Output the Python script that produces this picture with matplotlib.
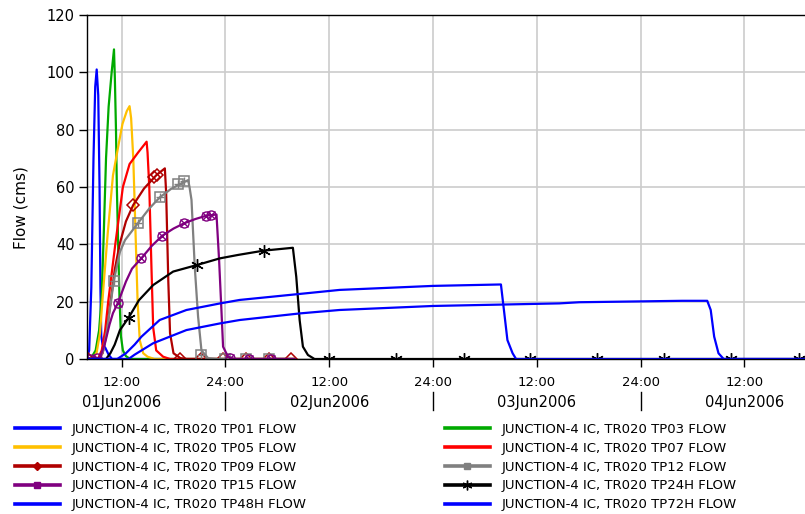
import matplotlib
matplotlib.use("Agg")
import matplotlib.pyplot as plt
from matplotlib.lines import Line2D
import matplotlib.transforms as mtransforms

# ---------------- data (hours since 01Jun2006 00:00, flow in cms) ----------------
tp01_t = [8.0, 8.25, 8.5, 8.75, 8.95, 9.12, 9.3, 9.45, 9.55, 9.65, 9.8, 10.1, 10.5, 10.9, 32.0]
tp01_v = [0.3, 3, 25, 70, 95, 101, 92, 60, 25, 8, 5, 4, 1.5, 0, 0]

tp03_t = [8.0, 8.5, 9.0, 9.4, 9.7, 9.95, 10.2, 10.5, 10.85, 11.12, 11.22, 11.35, 11.45, 11.6, 11.75, 11.92, 12.15, 12.5, 13.0, 32.0]
tp03_v = [0, 0.5, 3, 10, 22, 45, 70, 88, 100, 108, 98, 80, 60, 40, 22, 8, 3, 1, 0, 0]

tp05_t = [8.0, 8.6, 9.1, 9.5, 9.9, 10.4, 11.0, 11.6, 12.1, 12.6, 12.92, 13.1, 13.35, 13.6, 13.85, 14.1, 14.5, 15.0, 15.8, 32.0]
tp05_v = [0, 0.3, 2, 9, 25, 44, 64, 74, 82, 86.5, 88.2, 84, 70, 45, 20, 6.5, 2, 0.8, 0, 0]

tp07_t = [8.0, 9.3, 9.7, 10.1, 10.45, 11.27, 12.15, 12.92, 13.9, 14.89, 15.0, 15.2, 15.45, 15.65, 16.0, 16.8, 17.6, 32.0]
tp07_v = [0, 0.3, 3, 10, 20, 40, 60, 68, 72, 75.8, 72, 60, 32, 11, 3, 0.8, 0, 0]

tp09_t = [8.0, 9.4, 9.8, 10.2, 10.73, 11.2, 11.77, 12.5, 13.34, 14.6, 16.04, 17.0, 17.15, 17.4, 17.6, 18.0, 18.8, 19.5, 32.0]
tp09_v = [0, 0.3, 2, 8, 20, 31, 40, 48, 53.7, 59.5, 64.2, 66.5, 58, 27, 9, 2, 0.3, 0, 0]
tp09_mk_t = [8.12, 13.34, 15.75, 16.04, 18.73, 21.23, 23.75, 26.35, 29.0, 31.54]
tp09_mk_v = [0, 53.7, 63.5, 64.2, 0, 0, 0, 0, 0, 0]

tp12_t = [8.0, 9.5, 9.9, 10.3, 10.77, 11.1, 11.81, 12.4, 13.92, 15.2, 16.42, 17.7, 18.93, 19.69, 19.85, 20.08, 20.46, 20.84, 21.23, 22.0, 23.0, 32.0]
tp12_v = [0, 0.3, 3, 10, 20, 27.3, 37.4, 41.5, 47.5, 52.5, 56.4, 59.3, 61.3, 62.4, 60, 55.5, 32, 14.8, 3, 0.3, 0, 0]
tp12_mk_t = [11.1, 13.92, 16.42, 18.5, 19.2, 21.23, 23.92, 26.4, 29.0]
tp12_mk_v = [27.3, 47.5, 56.4, 61.0, 62.0, 1.5, 0, 0, 0]

tp15_t = [8.0, 9.46, 10.04, 10.6, 11.0, 11.58, 12.5, 13.2, 14.27, 15.5, 16.7, 18.0, 19.2, 20.5, 21.8, 22.97, 23.27, 23.54, 23.73, 24.3, 25.0, 32.0]
tp15_v = [0, 0.3, 5, 12, 16, 19.6, 27, 31.5, 35.1, 39.5, 43, 45.5, 47.3, 48.8, 50, 50.4, 34.5, 17, 4.3, 0.8, 0, 0]
tp15_mk_t = [8.4, 9.1, 11.58, 14.27, 16.7, 19.2, 21.8, 22.3, 24.5, 26.7, 29.3]
tp15_mk_v = [0, 0.2, 19.6, 35.1, 43, 47.3, 50, 50.1, 0.5, 0, 0]

tp24_t = [8.0, 10.2, 10.7, 11.2, 11.81, 12.81, 14.0, 15.65, 17.96, 20.73, 23.35, 25.46, 28.42, 31.8, 32.19, 32.58, 32.96, 33.54, 34.3, 91.0]
tp24_v = [0, 0, 2, 5, 10.1, 14.4, 20.5, 25.8, 30.5, 32.8, 35.1, 36.3, 37.8, 38.8, 28.7, 13.6, 4.3, 1.4, 0, 0]
tp24_mk_t = [12.81, 20.73, 28.42, 35.92, 43.77, 51.62, 59.23, 66.96, 74.69, 82.42, 90.27]
tp24_mk_v = [14.4, 32.8, 37.8, 0, 0, 0, 0, 0, 0, 0, 0]

tp48_t = [8.0, 11.5, 12.5, 13.5, 14.3, 16.4, 19.5, 23.4, 25.65, 32.6, 37.2, 48.0, 55.85, 56.2, 56.6, 57.2, 57.6, 91.0]
tp48_v = [0, 0, 2, 5, 7.8, 13.6, 17.1, 19.4, 20.6, 22.7, 24.1, 25.5, 26.0, 17, 6.6, 2, 0, 0]

tp72_t = [8.0, 12.8, 13.5, 15.65, 19.5, 23.35, 25.65, 32.6, 37.2, 48.0, 62.6, 64.9, 76.8, 79.7, 80.1, 80.5, 81.0, 81.6, 91.0]
tp72_v = [0, 0, 1.5, 5.5, 10.1, 12.4, 13.6, 15.9, 17.1, 18.5, 19.4, 19.8, 20.3, 20.3, 17.1, 7.8, 2, 0, 0]

labels = ["JUNCTION-4 IC, TR020 TP01 FLOW", "JUNCTION-4 IC, TR020 TP03 FLOW",
          "JUNCTION-4 IC, TR020 TP05 FLOW", "JUNCTION-4 IC, TR020 TP07 FLOW",
          "JUNCTION-4 IC, TR020 TP09 FLOW", "JUNCTION-4 IC, TR020 TP12 FLOW",
          "JUNCTION-4 IC, TR020 TP15 FLOW", "JUNCTION-4 IC, TR020 TP24H FLOW",
          "JUNCTION-4 IC, TR020 TP48H FLOW", "JUNCTION-4 IC, TR020 TP72H FLOW"]

x_ticks = [12, 24, 36, 48, 60, 72, 84]
x_tick_labels = ["12:00", "24:00", "12:00", "24:00", "12:00", "24:00", "12:00"]
day_centers = [12, 36, 60, 84]
day_labels = ["01Jun2006", "02Jun2006", "03Jun2006", "04Jun2006"]
day_breaks = [24, 48, 72]
y_ticks = [0, 20, 40, 60, 80, 100, 120]

# ---------------- styles ----------------
BLUE = "#0000FF"; GREEN = "#00AA00"; YELLOW = "#FFC000"; RED = "#FF0000"
DRED = "#B00000"; GRAY = "#808080"; PURPLE = "#800080"; BLACK = "#000000"
LW = 1.6

fig = plt.figure(figsize=(8.05, 5.14), dpi=100)
W, H = 805, 514
ax = fig.add_axes([87 / W, 1 - 359 / H, 718 / W, 344 / H])

ax.plot(tp01_t, tp01_v, color=BLUE, lw=LW)
ax.plot(tp03_t, tp03_v, color=GREEN, lw=LW)
ax.plot(tp05_t, tp05_v, color=YELLOW, lw=LW)
ax.plot(tp07_t, tp07_v, color=RED, lw=LW)
ax.plot(tp09_t, tp09_v, color=DRED, lw=LW)
ax.plot(tp09_mk_t, tp09_mk_v, ls="none", marker="D", ms=6.5, mfc="none", mec=DRED, mew=1.1)
ax.plot(tp12_t, tp12_v, color=GRAY, lw=LW)
ax.plot(tp12_mk_t, tp12_mk_v, ls="none", marker="s", ms=7, mfc="none", mec=GRAY, mew=1.1)
ax.plot(tp12_mk_t, tp12_mk_v, ls="none", marker="+", ms=6, mec=GRAY, mew=1.0)
ax.plot(tp15_t, tp15_v, color=PURPLE, lw=LW)
ax.plot(tp15_mk_t, tp15_mk_v, ls="none", marker="o", ms=6.5, mfc="none", mec=PURPLE, mew=1.0)
ax.plot(tp15_mk_t, tp15_mk_v, ls="none", marker="x", ms=6, mec=PURPLE, mew=1.0)
ax.plot(tp24_t, tp24_v, color=BLACK, lw=LW)
ax.plot(tp24_mk_t, tp24_mk_v, ls="none", marker=(6, 2, 0), ms=9, mec=BLACK, mew=1.0)
ax.plot(tp48_t, tp48_v, color=BLUE, lw=LW)
ax.plot(tp72_t, tp72_v, color=BLUE, lw=LW)

ax.set_xlim(8, 91)
ax.set_ylim(0, 120)
ax.set_yticks(y_ticks)
ax.set_yticklabels([str(v) for v in y_ticks], fontsize=10.5)
ax.set_xticks(x_ticks)
ax.set_xticklabels(x_tick_labels, fontsize=9.5)
ax.tick_params(axis="both", direction="out", length=6, width=1, color="black", pad=3)
ax.tick_params(axis="x", pad=6)
ax.grid(True, color="#CCCCCC", lw=1.2)
ax.set_axisbelow(True)
for s in ["left", "top", "bottom"]:
    ax.spines[s].set_color("black")
    ax.spines[s].set_linewidth(1.0)
ax.spines["right"].set_visible(False)

ax.set_ylabel("Flow (cms)", fontsize=11)
ax.yaxis.set_label_coords(-0.082, 0.44)

trans = mtransforms.blended_transform_factory(ax.transData, ax.transAxes)
for c, lab in zip(day_centers, day_labels):
    ax.text(c, -0.125, lab, transform=trans, ha="center", va="center", fontsize=10.5, clip_on=False)
for b in day_breaks:
    ax.add_line(Line2D([b, b], [-0.096, -0.148], transform=trans, color="black", lw=1, clip_on=False))

# ---------------- legend (two columns) ----------------
def h(color, marker=None, ms=5):
    return Line2D([], [], color=color, lw=2.6, marker=marker, ms=ms, mfc=color, mec=color)

col1 = [h(BLUE), h(YELLOW), h(DRED, "D", 4), h(PURPLE, "s", 5), h(BLUE)]
col1_l = [labels[0], labels[2], labels[4], labels[6], labels[8]]
col2 = [h(GREEN), h(RED), h(GRAY, "s", 5), h(BLACK, (6, 2, 0), 7), h(BLUE)]
col2_l = [labels[1], labels[3], labels[5], labels[7], labels[9]]

common = dict(loc="upper left", frameon=False, handlelength=3.4,
              handletextpad=0.9, labelspacing=0.44, borderpad=0, borderaxespad=0,
              prop={"family": "DejaVu Sans", "size": 9.5})
fig.legend(col1, col1_l, bbox_to_anchor=(15 / W, 1 - 423 / H), **common)
fig.legend(col2, col2_l, bbox_to_anchor=(445 / W, 1 - 423 / H), **common)

fig.savefig("out.png", dpi=100)
